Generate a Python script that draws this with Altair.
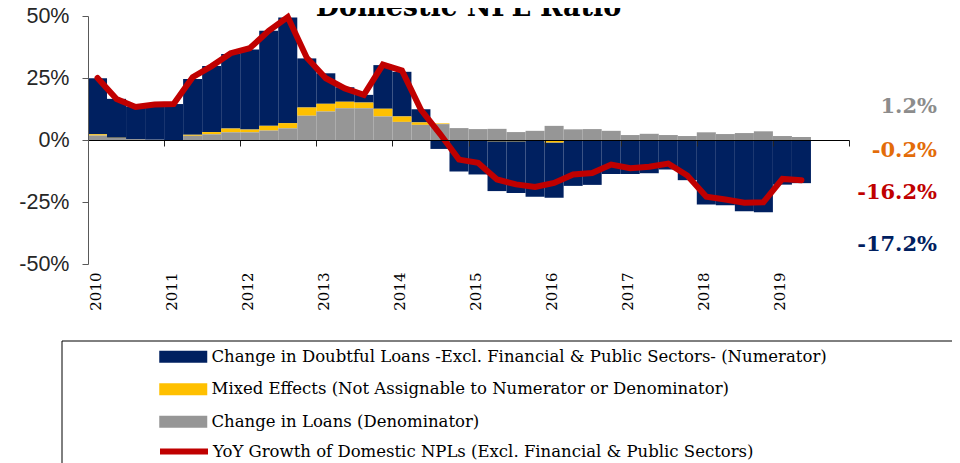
import altair as alt
import pandas as pd

# ---------------- data ----------------
years = list(range(2010, 2020))
quarter_index = list(range(38))  # 2010Q1 .. 2019Q2

doubtful = [22.6, 15.7, 13.1, 14.1, 14.5, 22.5, 26.6, 30.1, 32.3, 38.4,
            42.6, 19.8, 12.3, 5.9, 3.1, 17.6, 18.0, 5.3, -3.6, -12.5,
            -13.7, -20.1, -20.9, -22.5, -22.3, -18.1, -17.7, -13.5, -13.5, -13.2,
            -11.7, -16.0, -25.6, -25.9, -28.3, -28.7, -17.8, -17.2]
mixed = [0.5, 0.1, 0.0, -0.4, 0.0, 0.4, 0.9, 1.5, 1.1, 1.9,
         2.1, 3.3, 3.1, 2.6, 2.3, 3.1, 2.2, 1.0, 0.3, -0.2,
         -0.2, -0.5, -0.5, -0.4, -1.0, -0.4, -0.4, -0.2, -0.2, -0.2,
         -0.2, -0.2, -0.4, -0.4, -0.4, -0.4, -0.2, -0.2]
loans = [1.8, 0.8, 0.4, 0.1, 0.0, 1.7, 2.3, 3.1, 3.1, 3.8,
         4.7, 9.8, 11.5, 12.8, 12.8, 9.5, 7.3, 6.1, 6.4, 4.8,
         4.4, 4.5, 3.2, 3.7, 5.7, 4.3, 4.4, 3.7, 2.0, 2.5,
         2.0, 1.6, 3.1, 2.4, 2.8, 3.5, 1.6, 1.2]
yoy = [25.0, 16.5, 13.3, 14.3, 14.5, 25.3, 29.8, 35.0, 37.0, 44.0,
       49.6, 33.2, 24.9, 20.8, 18.2, 30.4, 28.0, 12.2, 2.5, -7.9,
       -9.2, -15.9, -17.9, -18.9, -17.3, -13.9, -13.3, -9.9, -11.4, -10.8,
       -9.5, -14.3, -22.9, -24.0, -25.3, -25.1, -15.7, -16.2]

series_names = [
    "Change in Doubtful Loans -Excl. Financial & Public Sectors- (Numerator)",
    "Mixed Effects (Not Assignable to Numerator or Denominator)",
    "Change in Loans (Denominator)",
]
line_name = "YoY Growth of Domestic NPLs (Excl. Financial & Public Sectors)"
bar_colors = ["#002060", "#FFC000", "#969696"]
stack_rank = [2, 1, 0]
line_color = "#C00000"
y_ticks = [-50, -25, 0, 25, 50]

# ---------------- tables ----------------
rows = []
for name, vals, rank in zip(series_names, [doubtful, mixed, loans], stack_rank):
    for q, v in zip(quarter_index, vals):
        rows.append({"q": q, "q_end": q + 1, "series": name, "value": v, "rank": rank})
bars_df = pd.DataFrame(rows)
line_df = pd.DataFrame({"q": quarter_index, "yoy": yoy, "series": line_name})
one = pd.DataFrame({"k": [0]})

year_js = "[" + ",".join("'%d'" % y for y in years) + "]"

x_scale = alt.Scale(domain=[0, 40], nice=False, zero=False)
y_scale = alt.Scale(domain=[-50, 50], nice=False)

x_axis = alt.Axis(
    values=list(range(0, 41, 4)),
    labelExpr=year_js + "[datum.value / 4] || ''",
    offset=-124, tickSize=6, domainColor="black", domainWidth=1.2,
    tickColor="#222222", labelAngle=270, labelAlign="right", labelBaseline="top",
    labelPadding=126, labelFont="DejaVu Serif", labelFontSize=15, labelColor="black",
    labelFlush=False, labelOverlap=False, grid=False, zindex=1,
)
y_axis = alt.Axis(
    values=y_ticks, labelExpr="datum.value + '%'", grid=False, tickSize=6,
    domainColor="#595959", tickColor="#595959", labelPadding=13,
    labelFont="Liberation Sans", labelFontSize=21.5, labelColor="#262626", zindex=1,
)

legend_common = dict(
    title=None, orient="none", legendX=87, padding=0, labelLimit=1000,
    labelFont="DejaVu Serif", labelFontSize=16.5, labelColor="black",
    labelOffset=20, symbolSize=144, zindex=1,
)

bars = alt.Chart(bars_df).transform_stack(
    stack="value", groupby=["q"], as_=["v0", "v1"],
    sort=[alt.SortField("rank", order="ascending")], offset="zero",
).mark_bar(strokeWidth=0).encode(
    x=alt.X("q:Q", scale=x_scale, axis=x_axis, title=None),
    x2="q_end:Q",
    y=alt.Y("v0:Q", scale=y_scale, axis=y_axis, title=None),
    y2="v1:Q",
    fill=alt.Fill(
        "series:N",
        scale=alt.Scale(domain=series_names, range=bar_colors),
        legend=alt.Legend(
            legendY=332.5, symbolType="M-4,-1H4V1H-4Z", symbolStrokeWidth=0,
            rowPadding=15.5, direction="vertical", **legend_common,
        ),
    ),
)

line = alt.Chart(line_df).transform_calculate(qc="datum.q + 0.5").mark_line(
    strokeWidth=6, strokeJoin="miter", strokeCap="round"
).encode(
    x=alt.X("qc:Q", scale=x_scale),
    y=alt.Y("yoy:Q", scale=y_scale),
    stroke=alt.Stroke(
        "series:N",
        scale=alt.Scale(domain=[line_name], range=[line_color]),
        legend=alt.Legend(
            legendY=426.5, symbolType="M-4,0H4", symbolStrokeWidth=6, **legend_common,
        ),
    ),
)

box = alt.Chart(one).mark_rect(fill="transparent", stroke="black", strokeWidth=1).encode(
    x=alt.value(-26), x2=alt.value(890), y=alt.value(325), y2=alt.value(480)
)

title = alt.Chart(one).mark_text(
    font="DejaVu Serif", fontWeight="bold", fontSize=27, align="center", baseline="alphabetic"
).encode(text=alt.value("Domestic NPL Ratio"), x=alt.value(380.5), y=alt.value(0))

end_labels = []
for txt, col, ypos in [
    ("%.1f%%" % loans[-1], "#8C8C8C", 91),
    ("%.1f%%" % mixed[-1], "#E36C09", 135),
    ("%.1f%%" % yoy[-1], line_color, 177),
    ("%.1f%%" % doubtful[-1], "#002060", 229),
]:
    end_labels.append(
        alt.Chart(one).mark_text(
            font="DejaVu Serif", fontWeight="bold", fontSize=21, align="right",
            baseline="middle", color=col,
        ).encode(text=alt.value(txt), x=alt.value(849), y=alt.value(ypos))
    )

chart = alt.layer(bars, line, box, title, *end_labels).properties(
    width=761, height=248,
    autosize=alt.AutoSizeParams(type="none"),
    padding={"left": 80, "top": 8, "right": 103, "bottom": 199},
).configure_view(stroke="transparent")

chart.save("out.html", embed_options={"renderer": "svg", "actions": False})
